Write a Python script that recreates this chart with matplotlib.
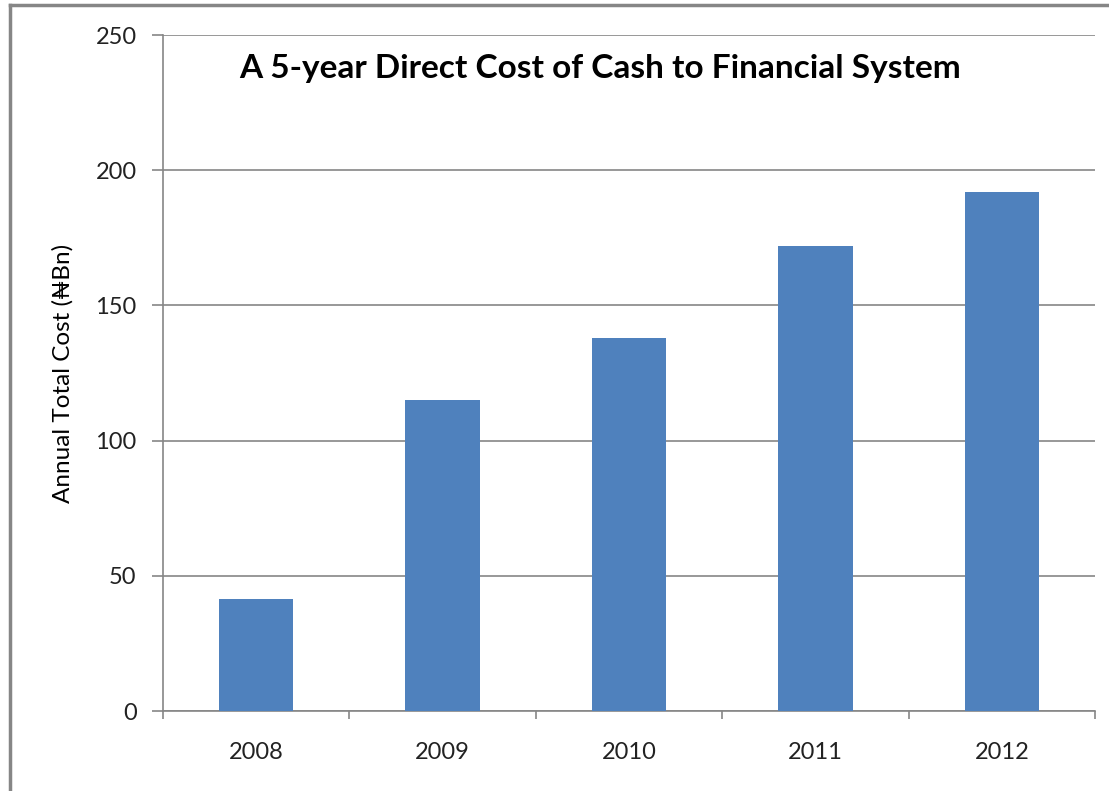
import matplotlib
matplotlib.use("Agg")
from matplotlib import pyplot as plt
from matplotlib.lines import Line2D
import numpy as np

years = ["2008", "2009", "2010", "2011", "2012"]
cost_bn = [41.5, 115, 138, 172, 192]
y_ticks = [0, 50, 100, 150, 200, 250]

bar_color = "#4F81BD"
grid_color = "#868686"
fonts = ["Lato", "DejaVu Sans"]

fig = plt.figure(figsize=(11.09, 7.91), dpi=100)
ax = fig.add_axes([163 / 1109, 1 - 711 / 791, 932 / 1109, 676 / 791])

x = np.arange(len(years))
ax.bar(x, cost_bn, width=0.4, color=bar_color, zorder=3)

ax.set_xlim(-0.5, len(years) - 0.5)
ax.set_ylim(0, 250)
ax.set_yticks(y_ticks)
ax.set_xticks(x)
ax.set_xticklabels(years)
ax.set_xticks(np.arange(len(years) + 1) - 0.5, minor=True)

ax.grid(axis="y", color=grid_color, linewidth=1.2, zorder=0)
for s in ["top", "right"]:
    ax.spines[s].set_visible(False)
for s in ["left", "bottom"]:
    ax.spines[s].set_color(grid_color)
    ax.spines[s].set_linewidth(1.2)

ax.tick_params(axis="y", length=8, width=1.2, color=grid_color, pad=11,
               labelsize=17, labelcolor="#222222")
ax.tick_params(axis="x", which="major", length=0, pad=22,
               labelsize=17, labelcolor="#222222")
ax.tick_params(axis="x", which="minor", length=6, width=1.2, color=grid_color)
for lab in ax.get_xticklabels() + ax.get_yticklabels():
    lab.set_family(fonts)

ax.set_ylabel("Annual Total Cost (\u20a6Bn)", fontsize=17.5, family=fonts,
              labelpad=16)
ax.text(0.469, 0.951, "A 5-year Direct Cost of Cash to Financial System",
        transform=ax.transAxes, ha="center", va="center", fontsize=24,
        fontweight="bold", family=fonts)

# outer frame of the pasted chart (left and top edges)
fig.add_artist(Line2D([10 / 1109, 10 / 1109], [0, 1 - 5 / 791],
                      color=grid_color, linewidth=2.5, transform=fig.transFigure))
fig.add_artist(Line2D([10 / 1109, 1], [1 - 5 / 791, 1 - 5 / 791],
                      color=grid_color, linewidth=2.5, transform=fig.transFigure))

fig.savefig("out.png", dpi=100)
